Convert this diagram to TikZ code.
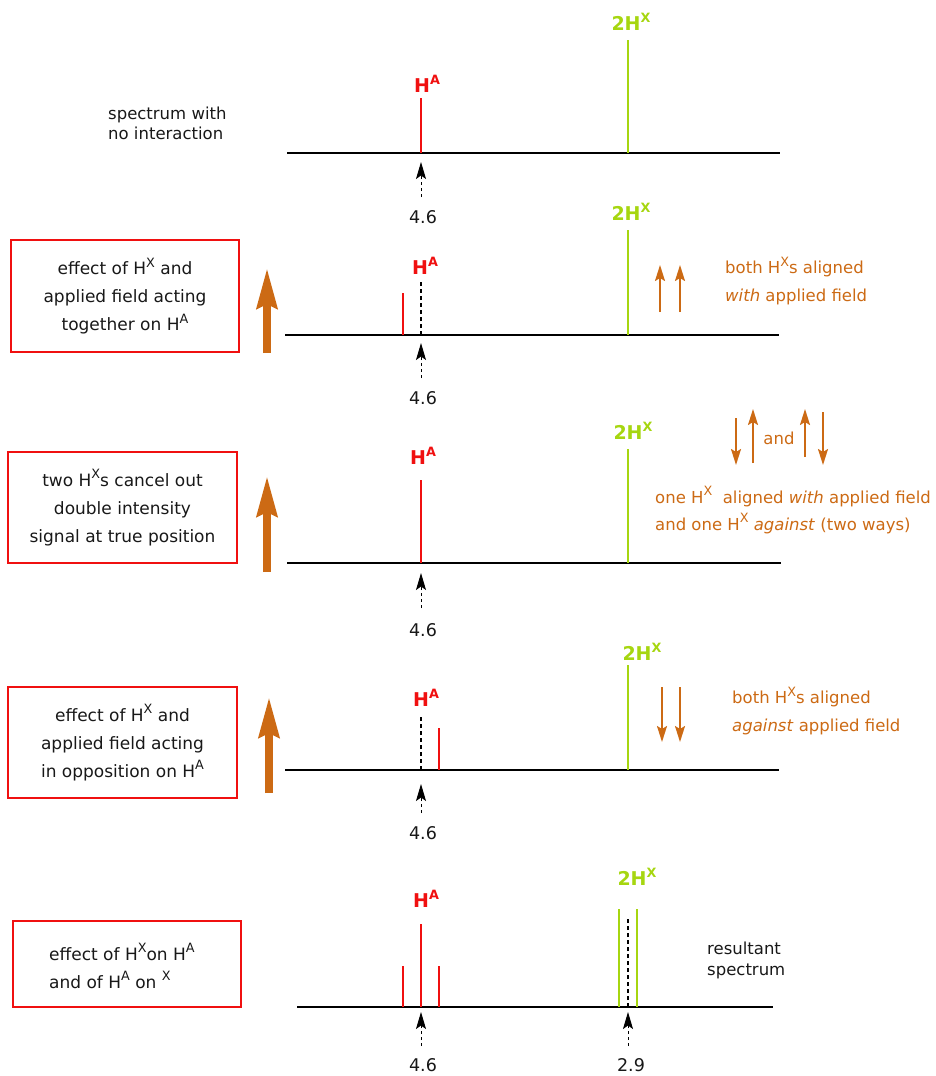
\documentclass[tikz,border=0pt]{standalone}
\usepackage{fontspec}
\setmainfont{DejaVu Sans}
\usetikzlibrary{arrows.meta}
\definecolor{peakred}{RGB}{240,16,16}
\definecolor{xgreen}{RGB}{166,214,16}
\definecolor{spin}{RGB}{204,106,20}
\definecolor{ink}{RGB}{24,24,24}

% raised index letter on H
\newcommand\sups[1]{\raisebox{7.5pt}{\fontsize{12.8}{13}\selectfont#1}}
% a vertical line of the spectrum: name, x, top y, base y, style
\newcommand\specpeak[5]{%
  \coordinate (#1b) at (#2,#4);
  \coordinate (#1t) at (#2,#3);
  \draw[#5] (#1b) -- (#1t);}
% dashed pointer to a chemical shift: name, x, tip y, tail y
\newcommand\shiftptr[4]{%
  \coordinate (#1h) at (#2,#3);
  \coordinate (#1e) at (#2,#4);
  \draw[shiftmark] (#1e) -- (#1h);}
% small spin arrow: name, x, start y, end y
\newcommand\spinarrow[4]{%
  \coordinate (#1s) at (#2,#3);
  \coordinate (#1e) at (#2,#4);
  \draw[spinarr] (#1s) -- (#1e);}

\begin{document}
\begin{tikzpicture}[x=1pt,y=-1pt,
  every node/.style={text=ink, inner sep=0pt},
  body/.style={font=\fontsize{16.5}{28}\selectfont},
  axis/.style={draw=black, line width=1.8pt},
  peakA/.style={draw=peakred, line width=1.6pt},
  peakX/.style={draw=xgreen, line width=2.2pt},
  truepos/.style={draw=black, line width=1.6pt, dash pattern=on 4pt off 3pt},
  shiftmark/.style={draw=black, line width=1pt, dash pattern=on 3pt off 3pt,
    -{Stealth[length=17pt,width=10pt,inset=3.5pt]}},
  labA/.style={text=peakred, font=\bfseries\fontsize{19}{20}\selectfont},
  labX/.style={text=xgreen, font=\bfseries\fontsize{19}{20}\selectfont},
  ppm/.style={font=\fontsize{17.5}{20}\selectfont},
  infobox/.style={draw=peakred, line width=1.8pt, align=center,
    font=\fontsize{17}{28}\selectfont},
  fieldarr/.style={draw=spin, line width=8pt,
    -{Stealth[length=40pt,width=20pt,inset=4pt]}},
  spinarr/.style={draw=spin, line width=2pt,
    -{Stealth[length=16pt,width=10pt,inset=3pt]}},
  note/.style={text=spin, align=left, anchor=west}
]
\path[use as bounding box] (0,0) rectangle (935,1076);

% ---------- spectrum with no interaction ----------
\coordinate (a1l) at (287,153); \coordinate (a1r) at (780,153);
\draw[axis] (a1l) -- (a1r);
\specpeak{p1a}{421}{98}{153}{peakA}
\specpeak{p1x}{628}{40}{153}{peakX}
\node[labA] (l1a) at (427,84) {H\sups{A}};
\node[labX] (l1x) at (631,22) {2H\sups{X}};
\shiftptr{s1}{421}{162}{197}
\node[ppm] (v1) at (423,217) {4.6};
\node[align=left, anchor=west, font=\fontsize{16.5}{20}\selectfont] (t1) at (108,123)
  {spectrum with\\no interaction};

% ---------- both HX with the field ----------
\node[infobox, minimum width=228, minimum height=112] (b2) at (125,296)
  {effect of H\sups{X} and\\applied field acting\\together on H\sups{A}};
\coordinate (f2s) at (267,353); \coordinate (f2e) at (267,268);
\draw[fieldarr] (f2s) -- (f2e);
\coordinate (a2l) at (285,335); \coordinate (a2r) at (779,335);
\draw[axis] (a2l) -- (a2r);
\specpeak{p2a}{403}{293}{335}{peakA}
\specpeak{p2d}{421}{280}{335}{truepos}
\specpeak{p2x}{628}{230}{335}{peakX}
\node[labA] (l2a) at (425,266) {H\sups{A}};
\node[labX] (l2x) at (631,212) {2H\sups{X}};
\shiftptr{s2}{421}{343}{378}
\node[ppm] (v2) at (423,398) {4.6};
\spinarrow{u2a}{660}{312}{265}
\spinarrow{u2b}{680}{312}{265}
\node[note, body] (n2) at (725,281)
  {both H\sups{X}s aligned\\\emph{with} applied field};

% ---------- one HX with, one against ----------
\node[infobox, minimum width=229, minimum height=111] (b3) at (122.5,507.5)
  {two H\sups{X}s cancel out\\double intensity\\signal at true position};
\coordinate (f3s) at (267,572); \coordinate (f3e) at (267,476);
\draw[fieldarr] (f3s) -- (f3e);
\coordinate (a3l) at (287,563); \coordinate (a3r) at (781,563);
\draw[axis] (a3l) -- (a3r);
\specpeak{p3a}{421}{480}{563}{peakA}
\specpeak{p3x}{628}{449}{563}{peakX}
\node[labA] (l3a) at (423,456) {H\sups{A}};
\node[labX] (l3x) at (633,431) {2H\sups{X}};
\shiftptr{s3}{421}{573}{608}
\node[ppm] (v3) at (423,630) {4.6};
\spinarrow{u3a}{736}{418}{465}
\spinarrow{u3b}{753}{463}{409}
\node[body, text=spin] (and3) at (779,438) {and};
\spinarrow{u3c}{805}{457}{409}
\spinarrow{u3d}{823}{412}{465}
\node[note, font=\fontsize{16.5}{27}\selectfont] (n3) at (655,510)
  {one H\sups{X}\ \ aligned \emph{with} applied field\\and one H\sups{X} \emph{against} (two ways)};

% ---------- both HX against the field ----------
\node[infobox, minimum width=229, minimum height=111] (b4) at (122.5,742.5)
  {effect of H\sups{X} and\\applied field acting\\in opposition on H\sups{A}};
\coordinate (f4s) at (269,793); \coordinate (f4e) at (269,697);
\draw[fieldarr] (f4s) -- (f4e);
\coordinate (a4l) at (285,770); \coordinate (a4r) at (779,770);
\draw[axis] (a4l) -- (a4r);
\specpeak{p4d}{421}{715}{770}{truepos}
\specpeak{p4a}{439}{728}{770}{peakA}
\specpeak{p4x}{628}{665}{770}{peakX}
\node[labA] (l4a) at (426,698) {H\sups{A}};
\node[labX] (l4x) at (642,652) {2H\sups{X}};
\shiftptr{s4}{421}{784}{813}
\node[ppm] (v4) at (423,833) {4.6};
\spinarrow{u4a}{662}{687}{742}
\spinarrow{u4b}{680}{687}{742}
\node[note, body] (n4) at (732,711)
  {both H\sups{X}s aligned\\\emph{against} applied field};

% ---------- resultant spectrum ----------
\node[draw=peakred, line width=1.8pt, minimum width=228, minimum height=86] (b5) at (127,964) {};
\node[align=left, anchor=west, font=\fontsize{17}{28}\selectfont] (t5) at (49,966)
  {effect of H\sups{X}on H\sups{A}\\and of H\sups{A} on \sups{X}};
\coordinate (a5l) at (297,1007); \coordinate (a5r) at (773,1007);
\draw[axis] (a5l) -- (a5r);
\specpeak{p5a}{403}{966}{1007}{peakA}
\specpeak{p5b}{421}{924}{1007}{peakA}
\specpeak{p5c}{439}{966}{1007}{peakA}
\specpeak{p5x}{619}{909}{1007}{peakX}
\specpeak{p5y}{637}{909}{1007}{peakX}
\specpeak{p5d}{628}{917}{1007}{truepos}
\node[labA] (l5a) at (426,899) {H\sups{A}};
\node[labX] (l5x) at (637,877) {2H\sups{X}};
\shiftptr{s5}{421}{1012}{1046}
\shiftptr{s6}{628}{1012}{1046}
\node[ppm] (v5) at (423,1065) {4.6};
\node[ppm] (v6) at (631,1065) {2.9};
\node[align=left, anchor=west, font=\fontsize{16.5}{21}\selectfont] (t6) at (707,960)
  {resultant\\spectrum};
\end{tikzpicture}
\end{document}
